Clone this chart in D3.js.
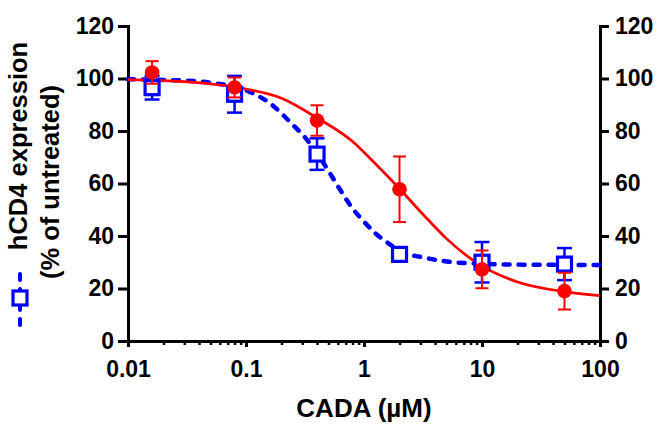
<!DOCTYPE html>
<html>
<head>
<meta charset="utf-8">
<script src="https://cdn.jsdelivr.net/npm/d3@7"></script>
<style>
  body { margin: 0; background: #fff; }
  svg text { font-family: Arial, "Liberation Sans", sans-serif; font-weight: bold; fill: #000; }
</style>
</head>
<body>
<svg id="chart" width="657" height="427"></svg>
<script>
// CADA dose response, hCD4 expression (% of untreated)
const conc = [0.016, 0.08, 0.4, 2, 10, 50];
const blueMean = [96.5, 94, 71.2, 33, 30, 29.3];
const blueErr = [4.5, 7, 6, 1.2, 7.7, 6.1];
const redMean = [102.3, 96.6, 84, 57.8, 27.3, 19];
const redErr = [4.3, 3.8, 5.8, 12.5, 7.2, 7];

// fitted curves
const blueFitConc = [0.01, 0.03, 0.05, 0.1, 0.16, 0.25, 0.32, 0.4, 0.5, 0.63, 0.8, 1, 1.25, 1.6, 2, 3.2, 5, 10, 20, 50, 100];
const blueFitVal = [99.7, 99.2, 98.4, 95.5, 90.5, 82.3, 77.3, 71.5, 64.8, 57.5, 50.5, 45.5, 41, 37.3, 34.3, 31.8, 30.3, 29.4, 29.1, 29, 29];
const redFitConc = [0.01, 0.03, 0.1, 0.2, 0.4, 0.8, 1.25, 2, 3.2, 5, 10, 20, 50, 100];
const redFitVal = [99.6, 98.8, 96, 92.5, 85, 76, 67.5, 58, 48, 39, 28.5, 22.5, 18.8, 17.3];

const xTicks = [0.01, 0.1, 1, 10, 100];
const xTickLabels = ["0.01", "0.1", "1", "10", "100"];
const yTicks = [0, 20, 40, 60, 80, 100, 120];

const svg = d3.select('#chart');
const x = d3.scaleLog().domain([0.01, 100]).range([128, 600]);
const y = d3.scaleLinear().domain([0, 120]).range([341, 26]);

// axes
function styleAxis(g){
	g.select('.domain').attr('stroke-width', 3).attr('stroke-linecap', 'square');
	g.selectAll('.tick line').attr('stroke-width', 3);
	g.selectAll('.tick text').style('font-size', '23px').attr('font-family', null);
}

const minor = x.ticks().filter(d => xTicks.indexOf(d) < 0);
svg.append('g')
	.attr('transform', 'translate(0,341)')
	.call(d3.axisBottom(x).tickValues(minor).tickSize(4).tickSizeOuter(0).tickFormat(''))
	.call(styleAxis)
	.call(g => g.selectAll('.tick line').attr('stroke-width', 2.5));

svg.append('g')
	.attr('transform', 'translate(0,341)')
	.call(d3.axisBottom(x).tickValues(xTicks).tickSize(6).tickSizeOuter(0).tickPadding(14)
		.tickFormat((d, i) => xTickLabels[i]))
	.call(styleAxis);

svg.append('g')
	.attr('transform', 'translate(128,0)')
	.call(d3.axisLeft(y).tickValues(yTicks).tickSize(10).tickSizeOuter(0).tickPadding(4))
	.call(styleAxis);

svg.append('g')
	.attr('transform', 'translate(600,0)')
	.call(d3.axisRight(y).tickValues(yTicks).tickSize(9).tickSizeOuter(0).tickPadding(6))
	.call(styleAxis);

// fit curves
const line = d3.line().x(d => x(d[0])).y(d => y(d[1])).curve(d3.curveMonotoneX);

svg.append('path')
	.datum(blueFitConc.map((c, i) => [c, blueFitVal[i]]))
	.attr('d', line)
	.attr('fill', 'none')
	.attr('stroke', '#0000ff')
	.attr('stroke-width', 4.5)
	.attr('stroke-dasharray', '6,9')
	.attr('stroke-linecap', 'round');

svg.append('path')
	.datum(redFitConc.map((c, i) => [c, redFitVal[i]]))
	.attr('d', line)
	.attr('fill', 'none')
	.attr('stroke', '#ff0000')
	.attr('stroke-width', 2.7);

// error bars + markers
function errorBars(mean, err, color, sw, cap){
	const g = svg.append('g').attr('stroke', color).attr('stroke-width', sw).attr('fill', 'none');
	conc.forEach((c, i) => {
		const cx = x(c), top = y(mean[i] + err[i]), bot = y(mean[i] - err[i]);
		g.append('line').attr('x1', cx).attr('x2', cx).attr('y1', top).attr('y2', bot);
		g.append('line').attr('x1', cx - cap).attr('x2', cx + cap).attr('y1', top).attr('y2', top);
		g.append('line').attr('x1', cx - cap).attr('x2', cx + cap).attr('y1', bot).attr('y2', bot);
	});
}

errorBars(blueMean, blueErr, '#0000ff', 2.5, 7.5);
svg.append('g').selectAll('rect')
	.data(conc)
	.enter().append('rect')
	.attr('x', d => x(d) - 7)
	.attr('y', (d, i) => y(blueMean[i]) - 7)
	.attr('width', 14)
	.attr('height', 14)
	.attr('fill', '#fff')
	.attr('stroke', '#0000ff')
	.attr('stroke-width', 3.2);

errorBars(redMean, redErr, '#ff0000', 2, 6.5);
svg.append('g').selectAll('circle')
	.data(conc)
	.enter().append('circle')
	.attr('cx', d => x(d))
	.attr('cy', (d, i) => y(redMean[i]))
	.attr('r', 7.3)
	.attr('fill', '#ff0000');

// axis titles
svg.append('text')
	.attr('x', 364).attr('y', 408)
	.attr('text-anchor', 'middle')
	.attr('dominant-baseline', 'central')
	.style('font-size', '26px')
	.text('CADA (µM)');

svg.append('text')
	.attr('transform', 'translate(18,146) rotate(-90)')
	.attr('text-anchor', 'middle')
	.attr('dominant-baseline', 'central')
	.style('font-size', '25.5px')
	.text('hCD4 expression');

svg.append('text')
	.attr('transform', 'translate(50,182) rotate(-90)')
	.attr('text-anchor', 'middle')
	.attr('dominant-baseline', 'central')
	.style('font-size', '25.5px')
	.text('(% of untreated)');

// legend symbol inside the y title
const leg = svg.append('g');
leg.append('line')
	.attr('x1', 20).attr('x2', 20).attr('y1', 325).attr('y2', 268)
	.attr('stroke', '#0000ff').attr('stroke-width', 4)
	.attr('stroke-dasharray', '6,9').attr('stroke-linecap', 'round');
leg.append('rect')
	.attr('x', 13).attr('y', 291).attr('width', 14).attr('height', 14)
	.attr('fill', '#fff').attr('stroke', '#0000ff').attr('stroke-width', 3.2);
</script>
</body>
</html>
